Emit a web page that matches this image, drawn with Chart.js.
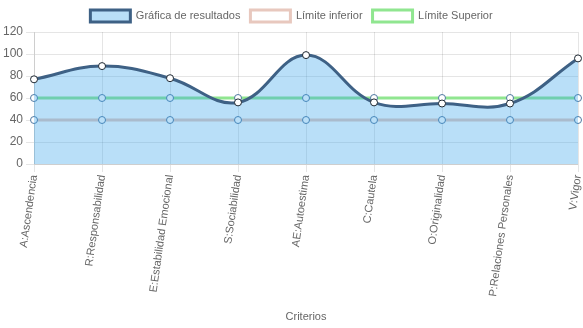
<!DOCTYPE html>
<html><head><meta charset="utf-8">
<script src="https://cdn.jsdelivr.net/npm/chart.js@4.4.0/dist/chart.umd.min.js"></script>
<style>html,body{margin:0;padding:0;background:#fff}#w{width:583px;height:328px}</style>
</head><body><div id="w"><canvas id="c"></canvas></div>
<script>
const categories = ["A:Ascendencia","R:Responsabilidad","E:Estabilidad Emocional","S:Sociabilidad","AE:Autoestima","C:Cautela","O:Originalidad","P:Relaciones Personales","V:Vigor"];
const resultados = [77, 89, 78, 56, 99, 56, 55, 55, 96];
const limiteInferior = [40, 40, 40, 40, 40, 40, 40, 40, 40];
const limiteSuperior = [60, 60, 60, 60, 60, 60, 60, 60, 60];
const yTicks = [0, 20, 40, 60, 80, 100, 120];

Chart.defaults.font.family = "'Liberation Sans', Arial, sans-serif";
Chart.defaults.font.size = 12;
Chart.defaults.color = '#666';

new Chart(document.getElementById('c'), {
  type: 'line',
  data: {
    labels: categories,
    datasets: [
      {
        label: 'Gráfica de resultados',
        data: resultados,
        borderColor: 'rgb(62,97,133)',
        backgroundColor: 'rgba(54,162,235,0.35)',
        borderWidth: 3,
        fill: 'origin',
        tension: 0.4,
        pointBackgroundColor: '#fff',
        pointBorderColor: 'rgb(30,40,50)',
        pointBorderWidth: 1,
        pointRadius: 3.5
      },
      {
        label: 'Límite inferior',
        data: limiteInferior,
        borderColor: 'rgb(232,200,190)',
        backgroundColor: '#fff',
        borderWidth: 3,
        fill: false,
        pointBackgroundColor: '#fff',
        pointBorderColor: 'rgb(80,120,160)',
        pointBorderWidth: 1,
        pointRadius: 3.5
      },
      {
        label: 'Límite Superior',
        data: limiteSuperior,
        borderColor: 'rgb(144,230,144)',
        backgroundColor: '#fff',
        borderWidth: 3,
        fill: false,
        pointBackgroundColor: '#fff',
        pointBorderColor: 'rgb(80,120,160)',
        pointBorderWidth: 1,
        pointRadius: 3.5
      }
    ]
  },
  options: {
    responsive: true,
    maintainAspectRatio: false,
    animation: false,
    plugins: {
      legend: { position: 'top', labels: { boxWidth: 40, boxHeight: 12, font: { size: 11 } } },
      tooltip: { enabled: false }
    },
    scales: {
      x: {
        title: { display: true, text: 'Criterios', font: { size: 11 }, padding: { top: 16, bottom: 4 } },
        ticks: { minRotation: 82, maxRotation: 82, padding: 2, font: { size: 11 } },
        grid: { color: 'rgba(0,0,0,0.1)' },
        afterFit: (sc) => { sc.paddingRight = 3; }
      },
      y: {
        min: 0, max: 120,
        ticks: { stepSize: 20 },
        afterBuildTicks: (ax) => { ax.ticks = yTicks.map(v => ({ value: v })); },
        grid: { color: 'rgba(0,0,0,0.1)' }
      }
    }
  }
});
</script></body></html>
